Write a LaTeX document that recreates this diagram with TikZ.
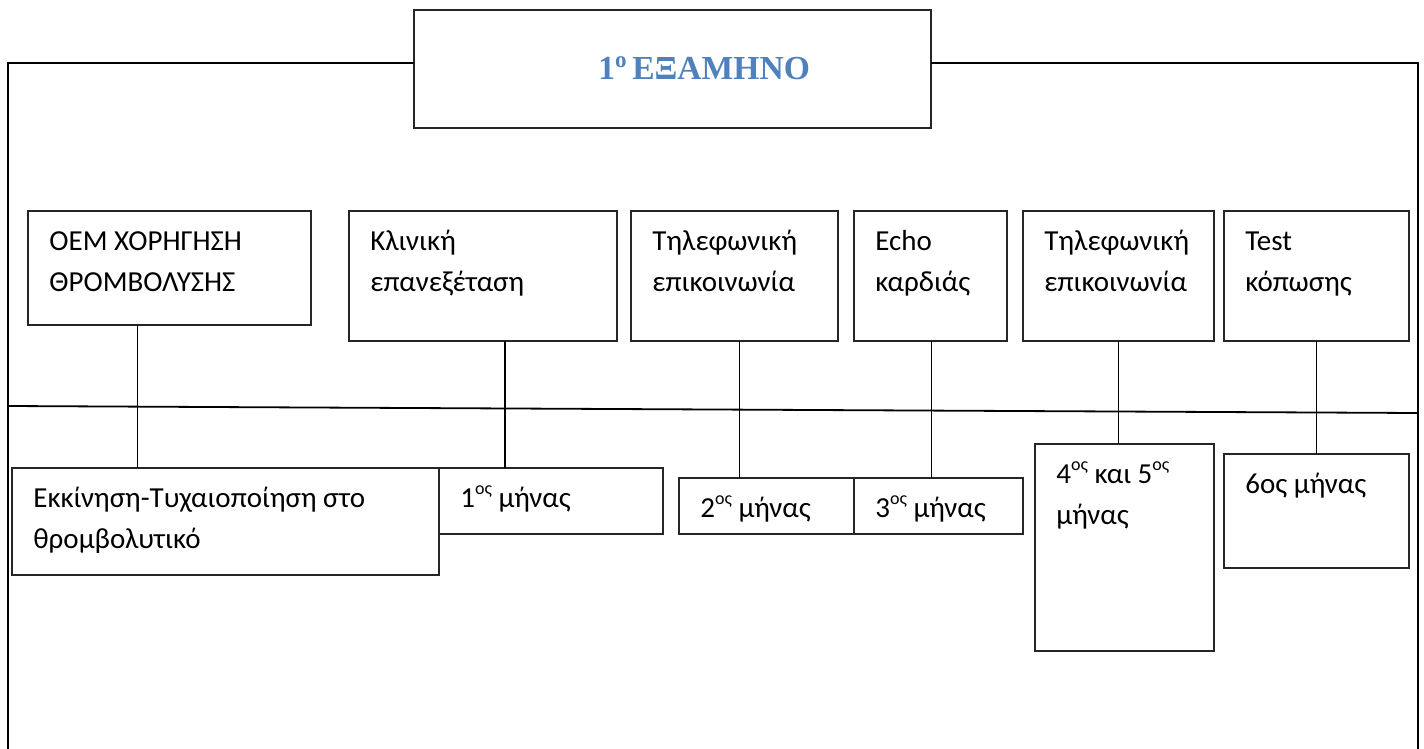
\documentclass[tikz,border=0pt]{standalone}
\usepackage{fontspec}
\setmainfont{Carlito}
\newfontfamily\titlefont{Liberation Serif}
\definecolor{titleblue}{HTML}{4F81BD}
\newcommand\mylines[1]{\begin{tabular}[t]{@{}l@{}}#1\end{tabular}}
\newcommand\supos{\raisebox{0.42em}{\fontsize{9}{9}\selectfont ος}}
\begin{document}
\begin{tikzpicture}[x=0.5pt,y=-0.5pt,
  box/.style={draw=black!85,line width=1pt,inner sep=0pt,outer sep=0pt,anchor=north west},
  txt/.style={anchor=base west,inner sep=0pt,font=\fontsize{14.5}{20.5}\selectfont},
  conn/.style={draw=black,line width=0.75pt},
  frame/.style={draw=black,line width=0.9pt}]
\useasboundingbox (0,0) rectangle (1424,749);
% title box
\node[box,minimum width=258.5pt,minimum height=59pt] (title) at (414,10) {};
\node[anchor=base west,inner sep=0pt,font=\titlefont\bfseries\fontsize{16.8}{20}\selectfont,text=titleblue] (ttxt) at (598,80) {1\raisebox{0.36em}{\fontsize{11.5}{11.5}\selectfont ο}\,ΕΞΑΜΗΝΟ};
% outer frame
\coordinate (fl) at (8,749);
\coordinate (fr) at (1418,749);
\draw[frame] ([shift={(0,-6)}]title.west) -| (fl);
\draw[frame] ([shift={(0,-6)}]title.east) -| (fr);
% timeline
\coordinate (tl) at (8,406);
\coordinate (tr) at (1418,413);
\draw[frame] (tl) -- (tr);
% top boxes
\node[box,minimum width=141.5pt,minimum height=57pt] (oem) at (28,211) {};
\node[box,minimum width=134pt,minimum height=65pt] (kl) at (349,211) {};
\node[box,minimum width=103.5pt,minimum height=65pt] (tel1) at (631,211) {};
\node[box,minimum width=76.5pt,minimum height=65pt] (echo) at (854,211) {};
\node[box,minimum width=95.5pt,minimum height=65pt] (tel2) at (1023,211) {};
\node[box,minimum width=92.5pt,minimum height=65pt] (test) at (1224,211) {};
% bottom boxes
\node[box,minimum width=213.5pt,minimum height=53.5pt] (ekk) at (12,468) {};
\node[box,minimum width=112pt,minimum height=33pt] (m1) at (439,468) {};
\node[box,minimum width=87.5pt,minimum height=28pt] (m2) at (679,478) {};
\node[box,minimum width=84.5pt,minimum height=28pt] (m3) at (854,478) {};
\node[box,minimum width=89.5pt,minimum height=103.5pt] (m45) at (1035,444) {};
\node[box,minimum width=92.5pt,minimum height=57pt] (m6) at (1224,454) {};
% texts
\node[txt] at ([shift={(21,39)}]oem.north west) {\mylines{ΟΕΜ ΧΟΡΗΓΗΣΗ\\ΘΡΟΜΒΟΛΥΣΗΣ}};
\node[txt] at ([shift={(21,39)}]kl.north west) {\mylines{Κλινική\\επανεξέταση}};
\node[txt] at ([shift={(21,39)}]tel1.north west) {\mylines{Τηλεφωνική\\επικοινωνία}};
\node[txt] at ([shift={(21,39)}]echo.north west) {\mylines{Echo\\καρδιάς}};
\node[txt] at ([shift={(21,39)}]tel2.north west) {\mylines{Τηλεφωνική\\επικοινωνία}};
\node[txt] at ([shift={(21,39)}]test.north west) {\mylines{Test\\κόπωσης}};
\node[txt] at ([shift={(21,39)}]ekk.north west) {\mylines{Εκκίνηση-Τυχαιοποίηση στο\\θρομβολυτικό}};
\node[txt] at ([shift={(21,39)}]m1.north west) {1\supos\ μήνας};
\node[txt] at ([shift={(21,39)}]m2.north west) {2\supos\ μήνας};
\node[txt] at ([shift={(21,39)}]m3.north west) {3\supos\ μήνας};
\node[txt] at ([shift={(21,39)}]m45.north west) {\mylines{4\supos\ και 5\supos\\μήνας}};
\node[txt] at ([shift={(21,39)}]m6.north west) {6ος μήνας};
% connectors
\draw[conn] ([shift={(-32,0)}]oem.south) -- ([shift={(-32,0)}]oem.south |- ekk.north);
\draw[conn] ([shift={(22,0)}]kl.south) -- ([shift={(22,0)}]kl.south |- m1.north);
\draw[conn] ([shift={(5,0)}]tel1.south) -- ([shift={(5,0)}]tel1.south |- m2.north);
\draw[conn] ([shift={(1,0)}]echo.south) -- ([shift={(1,0)}]echo.south |- m3.north);
\draw[conn] (tel2.south) -- (tel2.south |- m45.north);
\draw[conn] (test.south) -- (test.south |- m6.north);
\end{tikzpicture}
\end{document}
